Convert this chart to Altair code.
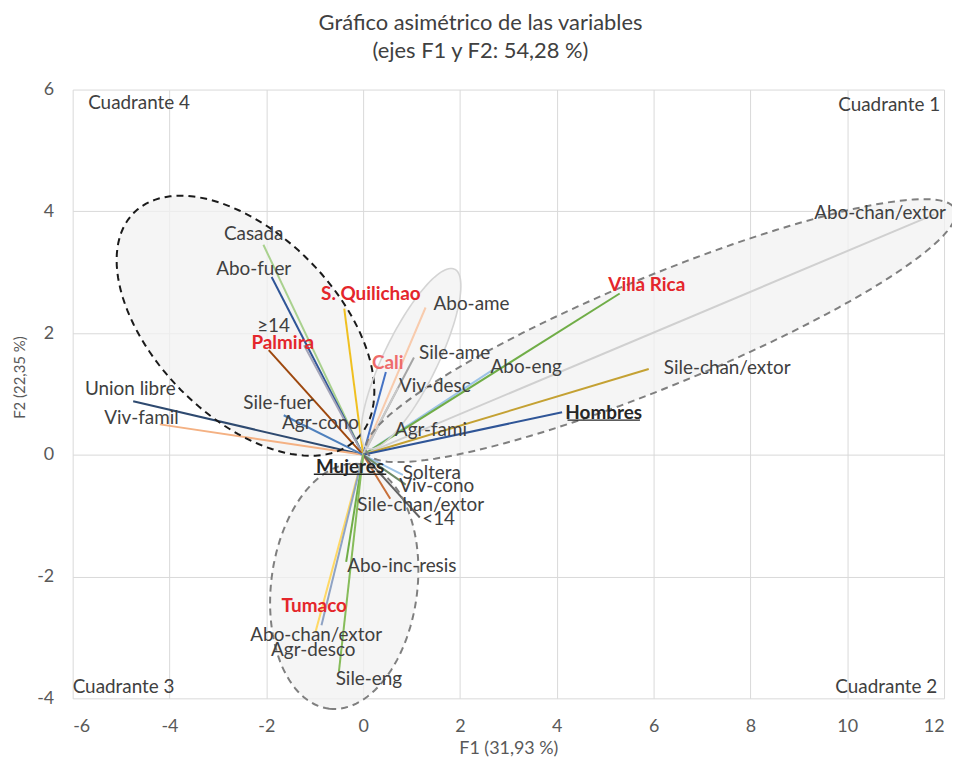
import altair as alt
import pandas as pd
import numpy as np

# ---------------- data ----------------
vec_name = ["Casada", "Abo-fuer", "≥14", "Palmira", "Union libre", "Viv-famil", "Sile-fuer",
            "S. Quilichao", "Cali", "Abo-ame", "Sile-ame", "Viv-desc", "Abo-eng", "Villa Rica",
            "Abo-chan/extor (1)", "Sile-chan/extor (1)", "Hombres", "Soltera", "Viv-cono",
            "Sile-chan/extor (2)", "<14", "Abo-inc-resis", "Tumaco", "Abo-chan/extor (2)", "Sile-eng"]
vec_x = [-2.06, -1.89, -1.22, -1.95, -4.75, -4.20, -1.64,
         -0.39, 0.47, 1.29, 1.05, 0.72, 2.67, 5.30,
         11.80, 5.90, 4.11, 0.82, 0.88,
         0.56, 1.17, -0.35, -0.98, -0.86, -0.50]
vec_y = [3.45, 2.92, 1.80, 1.72, 0.88, 0.50, 0.65,
         2.40, 1.36, 2.42, 1.60, 1.10, 1.39, 2.65,
         3.95, 1.41, 0.70, -0.33, -0.49,
         -0.72, -1.03, -1.76, -2.90, -2.80, -3.56]
vec_color = ["#A9D18E", "#2F5597", "#A5A5B8", "#9E480E", "#2E4A70", "#F4B183", "#4F81BD",
             "#F0C020", "#4472C4", "#F8CBAD", "#A5A5A5", "#C9C9C9", "#9DC3E6", "#70AD47",
             "#D0D0D0", "#C4A133", "#2F5597", "#9DC3E6", "#6F8A68",
             "#C8703A", "#636363", "#70AD47", "#FFD966", "#8FA3C4", "#86BC5A"]

lab_text = ["Casada", "Abo-fuer", "≥14", "Union libre", "Viv-famil", "Sile-fuer", "Agr-cono",
            "Abo-ame", "Sile-ame", "Viv-desc", "Abo-eng", "Agr-fami", "Abo-chan/extor",
            "Sile-chan/extor", "Soltera", "Viv-cono", "Sile-chan/extor", "<14", "Abo-inc-resis",
            "Abo-chan/extor", "Agr-desco", "Sile-eng"]
lab_x = [-2.26, -2.26, -1.85, -4.81, -4.58, -1.75, -0.88,
         2.24, 1.89, 1.48, 3.37, 1.40, 10.68,
         7.52, 1.42, 1.52, 1.19, 1.56, 0.80,
         -0.97, -1.03, 0.12]
lab_y = [3.63, 3.05, 2.12, 1.08, 0.60, 0.85, 0.52,
         2.48, 1.68, 1.13, 1.44, 0.41, 3.97,
         1.42, -0.30, -0.52, -0.83, -1.05, -1.83,
         -2.96, -3.21, -3.68]

site_text = ["S. Quilichao", "Palmira", "Cali", "Villa Rica", "Tumaco"]
site_x = [0.16, -1.66, 0.51, 5.86, -1.01]
site_y = [2.64, 1.83, 1.51, 2.79, -2.49]
site_color = ["#E4262B", "#E4262B", "#EE6B6B", "#E4262B", "#E4262B"]

sex_text = ["Hombres", "Mujeres"]
sex_x = [4.97, -0.27]
sex_y = [0.69, -0.20]

quad_text = ["Cuadrante 4", "Cuadrante 1", "Cuadrante 3", "Cuadrante 2"]
quad_x = [-5.68, 11.92, -6.00, 11.86]
quad_y = [5.78, 5.74, -3.81, -3.81]
quad_align = ["left", "right", "left", "right"]

# ellipses: centre and two conjugate semi-axes (data units)
ell_cx = [-2.43, 0.99, 6.15, -0.39]
ell_cy = [2.12, 1.58, 2.04, -2.16]
ell_ux = [2.30, 0.90, 6.08, -0.31]
ell_uy = [-1.86, 1.47, 1.99, -2.01]
ell_vx = [1.34, 0.50, 0.43, 1.50]
ell_vy = [1.05, -0.19, -0.84, -0.14]
ell_style = ["black", "light", "gray", "gray"]

# ---------------- tables ----------------
df_vec = pd.DataFrame({"name": vec_name, "x": vec_x, "y": vec_y, "c": vec_color})
df_vec["x0"] = 0.0
df_vec["y0"] = 0.0

df_lab = pd.DataFrame({"t": lab_text, "x": lab_x, "y": lab_y})
df_site = pd.DataFrame({"t": site_text, "x": site_x, "y": site_y, "c": site_color})
df_sex = pd.DataFrame({"t": sex_text, "x": sex_x, "y": sex_y})
half_w = [len(s) * 10.4 / 2 / 48.65 for s in sex_text]
df_ul = pd.DataFrame({"xa": [x - h for x, h in zip(sex_x, half_w)],
                      "xb": [x + h for x, h in zip(sex_x, half_w)],
                      "y": [y - 0.12 for y in sex_y]})
df_quad = pd.DataFrame({"t": quad_text, "x": quad_x, "y": quad_y, "a": quad_align})

t = np.linspace(0, 2 * np.pi, 121)
erows = []
for i in range(len(ell_cx)):
    for k, tt in enumerate(t):
        erows.append({"id": i, "k": k, "style": ell_style[i],
                      "x": ell_cx[i] + ell_ux[i] * np.cos(tt) + ell_vx[i] * np.sin(tt),
                      "y": ell_cy[i] + ell_uy[i] * np.cos(tt) + ell_vy[i] * np.sin(tt)})
df_ell = pd.DataFrame(erows)

FONT = "Lato"
FS = 19
xs = alt.Scale(domain=[-6, 12], nice=False, zero=False)
ys = alt.Scale(domain=[-4, 6], nice=False, zero=False)

X = alt.X("x:Q", scale=xs, axis=alt.Axis(
    title="F1 (31,93 %)", values=list(range(-6, 13, 2)), labelExpr="'' + datum.value",
    titleY=50, titleBaseline="middle", titleFontSize=18, labelPadding=19))
Y = alt.Y("y:Q", scale=ys, axis=alt.Axis(
    title="F2 (22,35 %)", values=list(range(-4, 7, 2)), labelExpr="'' + datum.value",
    titleX=-53, titleY=289, titleAngle=270, titleBaseline="middle", titleAlign="center",
    titleFontSize=15, labelPadding=19))

base = alt.Chart(df_ell)

fill = base.mark_line(fill="#F2F2F2", fillOpacity=0.75, strokeOpacity=0).encode(
    x=X, y=Y, detail="id:N", order="k:Q")

vectors = alt.Chart(df_vec).mark_rule(strokeWidth=2).encode(
    x=alt.X("x0:Q", scale=xs), y=alt.Y("y0:Q", scale=ys),
    x2="x:Q", y2="y:Q", color=alt.Color("c:N", scale=None))

ell_black = base.transform_filter("datum.style == 'black'").mark_line(
    color="#1a1a1a", strokeWidth=2, strokeDash=[7, 5]).encode(
    x=alt.X("x:Q", scale=xs), y=alt.Y("y:Q", scale=ys), detail="id:N", order="k:Q")
ell_gray = base.transform_filter("datum.style == 'gray'").mark_line(
    color="#7F7F7F", strokeWidth=2, strokeDash=[7, 5]).encode(
    x=alt.X("x:Q", scale=xs), y=alt.Y("y:Q", scale=ys), detail="id:N", order="k:Q")
ell_light = base.transform_filter("datum.style == 'light'").mark_line(
    color="#D4D4D4", strokeWidth=1.6).encode(
    x=alt.X("x:Q", scale=xs), y=alt.Y("y:Q", scale=ys), detail="id:N", order="k:Q")

labels = alt.Chart(df_lab).mark_text(font=FONT, fontSize=FS, color="#404040",
                                     baseline="middle").encode(
    x=alt.X("x:Q", scale=xs), y=alt.Y("y:Q", scale=ys), text="t:N")
sites = alt.Chart(df_site).mark_text(font=FONT, fontSize=FS, fontWeight="bold",
                                     baseline="middle").encode(
    x=alt.X("x:Q", scale=xs), y=alt.Y("y:Q", scale=ys), text="t:N",
    color=alt.Color("c:N", scale=None))
sexes = alt.Chart(df_sex).mark_text(font=FONT, fontSize=FS, fontWeight="bold",
                                    color="#262626", baseline="middle").encode(
    x=alt.X("x:Q", scale=xs), y=alt.Y("y:Q", scale=ys), text="t:N")
underline = alt.Chart(df_ul).mark_rule(color="#262626", strokeWidth=1.5).encode(
    x=alt.X("xa:Q", scale=xs), x2="xb:Q", y=alt.Y("y:Q", scale=ys))
quad_l = alt.Chart(df_quad).transform_filter("datum.a == 'left'").mark_text(
    font=FONT, fontSize=FS, color="#404040", baseline="middle", align="left").encode(
    x=alt.X("x:Q", scale=xs), y=alt.Y("y:Q", scale=ys), text="t:N")
quad_r = alt.Chart(df_quad).transform_filter("datum.a == 'right'").mark_text(
    font=FONT, fontSize=FS, color="#404040", baseline="middle", align="right").encode(
    x=alt.X("x:Q", scale=xs), y=alt.Y("y:Q", scale=ys), text="t:N")

chart = alt.layer(fill, vectors, ell_black, ell_gray, ell_light, labels, sites, sexes,
                  underline, quad_l, quad_r).properties(
    width=876, height=612,
    title=alt.TitleParams(["Gráfico asimétrico de las variables", "(ejes F1 y F2: 54,28 %)"],
                          font=FONT, fontSize=22, fontWeight="normal", color="#404040",
                          lineHeight=28, anchor="middle", offset=18, dx=-28),
    padding={"left": 65, "top": 80, "right": 8, "bottom": 59},
    autosize=alt.AutoSizeParams(type="none"),
).configure_view(stroke=None).configure_axis(
    domain=False, ticks=False, gridColor="#D9D9D9", gridWidth=1,
    labelFont=FONT, labelFontSize=18, labelColor="#595959",
    titleFont=FONT, titleFontWeight="normal", titleColor="#595959")

chart.save("out.html", embed_options={"renderer": "svg", "actions": False})
